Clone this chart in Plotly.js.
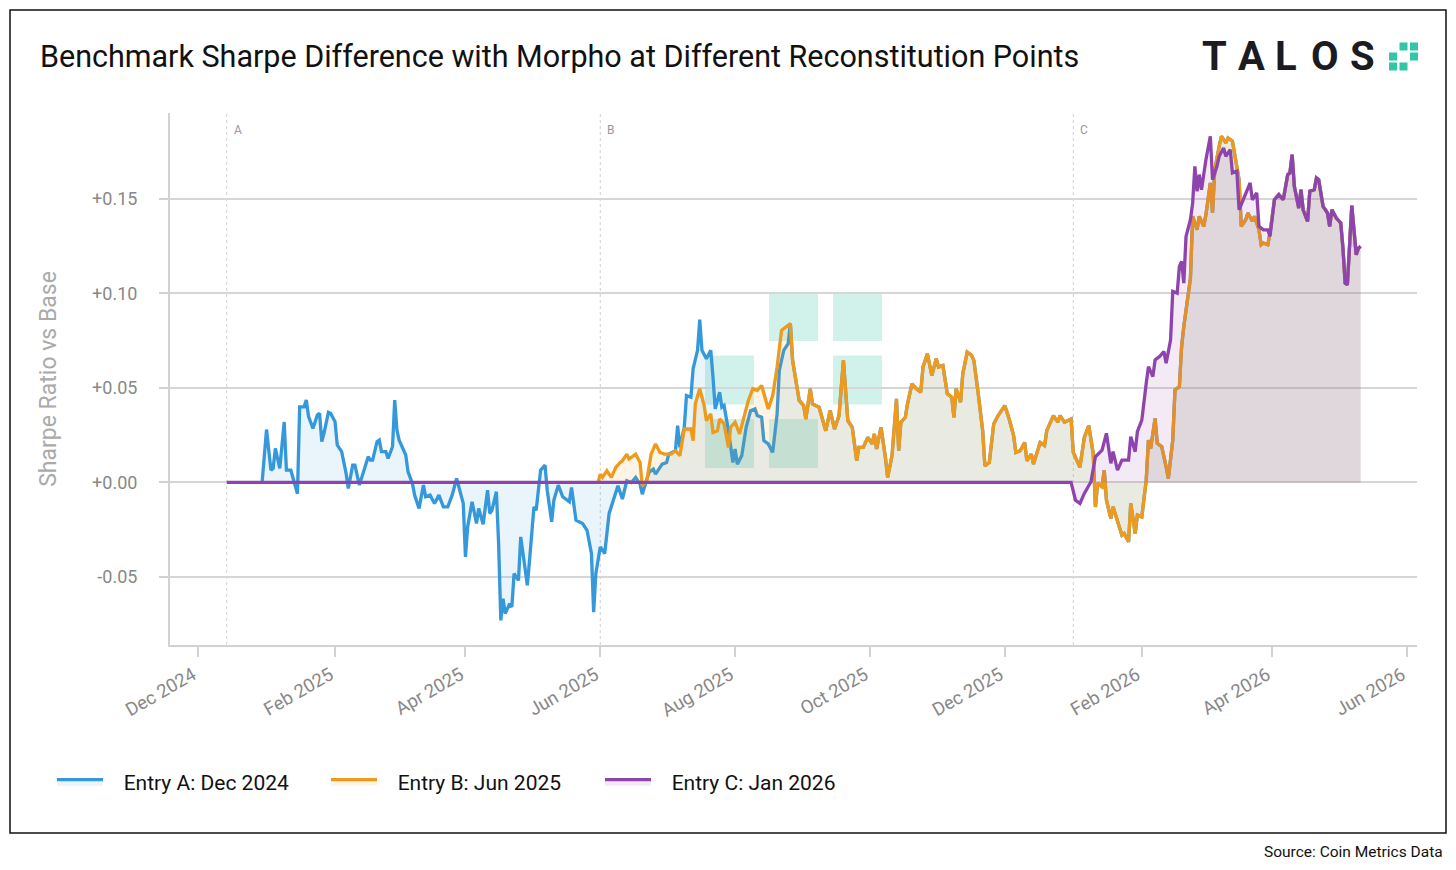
<!DOCTYPE html>
<html>
<head>
<meta charset="utf-8">
<script src="https://cdn.plot.ly/plotly-3.0.1.min.js"></script>
<style>
  html, body { margin: 0; padding: 0; background: #fff; }
  #chart { width: 1456px; height: 870px; }
</style>
</head>
<body>
<div id="chart"></div>
<script>
// Days are counted from 2024-12-01 (day 0)
const baseDate = '2024-12-01';

// Entry A (blue) - own readings until it merges under Entry B
const daysA = [29,31,33,34,35,37,39,40,42,45,46,48,49,50,52,54,55,56,57,59,60,62,63,65,67,68,70,71,73,75,77,78,79,81,82,83,85,86,88,89,90,91,94,95,97,98,100,102,103,105,107,109,111,113,115,117,119,120,121,122,124,126,127,129,131,132,133,135,136,137,138,139,141,142,143,145,146,149,150,152,153,155,157,158,160,161,163,165,168,169,171,174,176,178,179,180,182,184,186,188,190,192,194,196,198,200,201,204,206,207,210,212,213,216,217,218,220,221,223,224,226,227,228,230,232,233,234,236,237,238,240,242,243,244,246,248,250,252,253,255,256,258,260,262,263,265,267];
const valsA = [0,0.028,0.0065,0.0075,0.018,0.0075,0.032,0.0065,0.0065,-0.006,0.04,0.04,0.0436,0.035,0.0286,0.0357,0.0366,0.0216,0.026,0.0371,0.0366,0.0322,0.0198,0.0163,0.0048,-0.0032,0.0092,0.0092,-0.0014,0.0057,0.0136,0.0118,0.0118,0.0216,0.0224,0.0163,0.0163,0.0127,0.0189,0.0436,0.0277,0.0224,0.0145,0.0057,-0.0005,-0.0067,-0.0138,-0.0014,-0.0076,-0.0067,-0.0111,-0.0067,-0.0129,-0.0129,-0.0067,0.0021,-0.0058,-0.0111,-0.0394,-0.0235,-0.0102,-0.0217,-0.0138,-0.0221,-0.0041,-0.0164,-0.0147,-0.0049,-0.0323,-0.073,-0.0615,-0.0694,-0.0641,-0.0659,-0.0482,-0.0518,-0.0288,-0.0544,-0.0412,-0.0129,-0.0147,0.0065,0.0092,-0.0041,-0.0208,-0.0094,-0.0014,-0.0076,-0.0102,-0.0027,-0.02,-0.0217,-0.0253,-0.0376,-0.0686,-0.0482,-0.0341,-0.0376,-0.0164,-0.0097,-0.0018,-0.0088,0.0009,0,0.0027,-0.0009,-0.0062,0.0053,0.0071,0.0044,0.0097,0.0106,0.015,0.0168,0.0301,0.0186,0.0292,0.046,0.0451,0.0602,0.0699,0.0862,0.0699,0.0655,0.0699,0.0558,0.0389,0.0478,0.0398,0.0407,0.0274,0.0106,0.0177,0.0097,0.0142,0.0292,0.038,0.0389,0.0354,0.0345,0.0221,0.0204,0.0159,0.0363,0.0593,0.0699,0.0735];

// Entry B (orange) - own readings until it merges under Entry C
const daysB = [181,182,183,185,187,189,191,192,194,195,198,200,201,203,205,207,209,211,214,216,218,220,223,224,225,227,229,230,232,233,235,236,238,240,241,243,245,247,249,251,253,255,256,258,260,262,264,266,268,269,271,272,274,275,277,278,281,283,284,286,288,290,292,294,296,298,299,301,303,305,306,307,309,311,312,314,316,317,318,320,321,323,325,327,328,330,332,334,335,337,339,341,342,343,345,346,348,350,351,353,355,356,358,360,362,365,367,369,370,372,374,375,377,378,381,383,384,387,389,390,392,395,396,399,401,403,405,406,407,409,410,411,413,414,416,418,419,421,422,424,425,427,429,430,431,433,434,436,438,439,441,442,444,445,446,448,449,450,452,453,455,456,458,459,460,462,463,465,466,468,469,471,472,474,475,477,478,480,481,482,484,485];
const valsB = [0,0.0044,0.0027,0.0062,0.0027,0.008,0.0106,0.0115,0.015,0.0124,0.015,0.0106,-0.0018,0.0009,0.015,0.0204,0.0159,0.015,0.015,0.0168,0.0142,0.0283,0.0283,0.0221,0.0416,0.0496,0.0407,0.0327,0.0363,0.0265,0.0274,0.0336,0.031,0.0186,0.0292,0.0319,0.0257,0.0345,0.0434,0.0496,0.0487,0.0513,0.0469,0.0389,0.046,0.0611,0.0805,0.0823,0.0841,0.0646,0.0504,0.0434,0.0407,0.0336,0.0496,0.0416,0.0398,0.0319,0.0274,0.038,0.0283,0.0354,0.0646,0.0327,0.0292,0.0115,0.0186,0.0186,0.0239,0.0204,0.0257,0.0177,0.0292,0.0133,0.0027,0.0142,0.0442,0.0168,0.0319,0.0345,0.0416,0.0522,0.0496,0.0478,0.0611,0.0681,0.0566,0.0655,0.0611,0.0619,0.0469,0.0451,0.0345,0.0496,0.0425,0.0575,0.069,0.0673,0.0646,0.0469,0.0274,0.0088,0.0106,0.031,0.0354,0.0407,0.0336,0.0248,0.0159,0.0168,0.0212,0.0115,0.015,0.0097,0.0212,0.0195,0.0274,0.0354,0.0319,0.0354,0.0319,0.0336,0.0159,0.008,0.0239,0.0301,0.0154,-0.013,-0.0005,-0.0023,0.0065,-0.0094,-0.0191,-0.0129,-0.02,-0.0279,-0.027,-0.0314,-0.0111,-0.027,-0.0173,-0.0182,0.0012,0.0224,0.018,0.0339,0.0207,0.0189,0.0083,0.0021,0.0224,0.0489,0.0507,0.0719,0.0825,0.1002,0.1081,0.1408,0.1337,0.1408,0.1355,0.1417,0.1585,0.1426,0.1655,0.1779,0.1832,0.1797,0.1823,0.1806,0.1744,0.1602,0.1355,0.139,0.1426,0.1382,0.1408,0.1337,0.1258,0.1267,0.1258,0.132];

// Entry C (purple)
const daysC = [13,395,397,399,401,404,406,408,409,411,413,414,416,418,419,421,422,424,425,427,429,430,432,433,435,437,438,440,441,443,444,445,446,447,449,450,451,452,453,454,456,458,459,461,462,464,465,467,468,470,471,473,474,476,477,479,480,482,484,485,487,489,491,493,494,495,496,498,499,500,502,503,505,506,507,509,511,512,513,515,517,518,519,520,522,524,525,526];
const valsC = [0,0,-0.0094,-0.0111,-0.0058,0.0004,0.0136,0.0163,0.0171,0.026,0.0101,0.0163,0.0065,0.0118,0.0118,0.0118,0.0242,0.0163,0.0269,0.033,0.0525,0.0613,0.056,0.0648,0.0666,0.0693,0.0631,0.0754,0.1011,0.1002,0.1143,0.117,0.1055,0.1302,0.139,0.1479,0.1673,0.1541,0.1629,0.1549,0.1708,0.1832,0.1602,0.1673,0.1726,0.177,0.1726,0.1761,0.1638,0.1647,0.1443,0.1496,0.1532,0.1585,0.1496,0.1532,0.1355,0.1337,0.1337,0.1302,0.1496,0.1523,0.1496,0.1629,0.1638,0.1735,0.1567,0.1452,0.1549,0.1443,0.1382,0.1541,0.1549,0.1611,0.1602,0.1461,0.1426,0.1355,0.1443,0.1399,0.1373,0.124,0.1055,0.1046,0.1465,0.1205,0.124,0.1249];

const seriesNames = ['Entry A: Dec 2024', 'Entry B: Jun 2025', 'Entry C: Jan 2026'];
const markerDates = ['2024-12-14', '2025-06-01', '2026-01-01'];
const markerLabels = ['A', 'B', 'C'];
const yTickVals = [-0.05, 0, 0.05, 0.10, 0.15];
const yTickText = ['-0.05', '+0.00', '+0.05', '+0.10', '+0.15'];

const colors = ['#3498db', '#ee9a1c', '#8e44ad'];
const fills = ['rgba(52,152,219,0.11)', 'rgba(238,154,28,0.11)', 'rgba(142,68,173,0.11)'];

function toDate(d) {
    const t = new Date(baseDate + 'T00:00:00Z').getTime() + d * 86400000;
    return new Date(t).toISOString().slice(0, 10);
}

// a hidden line keeps following the one drawn above it
function joinTail(hd, hv, td, tv) {
    const last = hd[hd.length - 1];
    const d = hd.slice(), v = hv.slice();
    td.forEach((x, i) => { if (x > last) { d.push(x); v.push(tv[i]); } });
    return [d, v];
}

const [bDays, bVals] = joinTail(daysB, valsB, daysC, valsC);
const [aDays, aVals] = joinTail(daysA, valsA, bDays, bVals);

const all = [[aDays, aVals], [bDays, bVals], [daysC, valsC]];

var data = all.map((s, i) => ({
    x: s[0].map(toDate),
    y: s[1],
    type: 'scatter',
    mode: 'lines',
    fill: 'tozeroy',
    fillcolor: fills[i],
    line: {color: colors[i], width: 3.3},
    name: '\u00a0\u00a0\u00a0' + seriesNames[i],
    hoverinfo: 'skip'
}));

// pixel -> paper helpers for decoration (plot area 170..1417 x 113..645)
const px = x => (x - 170) / 1247;
const py = y => (645 - y) / 532;

var shapes = [];
// outer frame
shapes.push({type: 'rect', xref: 'paper', yref: 'paper', x0: px(10), x1: px(1446), y0: py(833), y1: py(10),
    line: {color: '#111', width: 1.5}, layer: 'below'});
// entry markers
markerDates.forEach(d => {
    shapes.push({type: 'line', xref: 'x', yref: 'paper', x0: d, x1: d, y0: 0, y1: 1,
        line: {color: '#cfcfcf', width: 1, dash: 'dot'}, layer: 'below'});
});
// logo squares: watermark + header
const logoCells = [[1, 0], [2, 0], [0, 1], [2, 1], [0, 2], [1, 2]];
logoCells.forEach(c => {
    const x0 = 705 + c[0] * 64, y0 = 292 + c[1] * 63.5;
    shapes.push({type: 'rect', xref: 'paper', yref: 'paper', x0: px(x0), x1: px(x0 + 49), y0: py(y0 + 49), y1: py(y0),
        fillcolor: 'rgba(46,196,165,0.22)', line: {width: 0}, layer: 'below'});
    const lx = 1389 + c[0] * 10.5, ly = 42.5 + c[1] * 10;
    shapes.push({type: 'rect', xref: 'paper', yref: 'paper', x0: px(lx), x1: px(lx + 8), y0: py(ly + 8), y1: py(ly),
        fillcolor: '#33c6a6', line: {width: 0}});
});

var annotations = markerDates.map((d, i) => ({
    x: d, xref: 'x', y: py(130), yref: 'paper', yanchor: 'middle', text: markerLabels[i], showarrow: false,
    xanchor: 'left', xshift: 5, font: {family: 'Roboto', size: 12, color: '#999'}
}));
// TALOS wordmark
const logoLetters = ['T', 'A', 'L', 'O', 'S'];
const logoX = [1214.5, 1251, 1285.5, 1325, 1362.5];
logoLetters.forEach((ch, i) => {
    annotations.push({x: px(logoX[i]), y: py(57), xref: 'paper', yref: 'paper', text: '<b>' + ch + '</b>',
        showarrow: false, xanchor: 'center', yanchor: 'middle',
        font: {family: 'Roboto', size: 40, color: '#1b1b22'}});
});
annotations.push({x: px(1445), y: py(852), xref: 'paper', yref: 'paper', text: 'Source: Coin Metrics Data',
    showarrow: false, xanchor: 'right', yanchor: 'middle', font: {family: 'Roboto', size: 15.5, color: '#111'}});

var layout = {
    width: 1456,
    height: 870,
    margin: {l: 170, r: 39, t: 113, b: 225},
    paper_bgcolor: '#fff',
    plot_bgcolor: '#fff',
    font: {family: 'Roboto, Arial, sans-serif'},
    title: {
        text: 'Benchmark Sharpe Difference with Morpho at Different Reconstitution Points',
        x: 40 / 1456, xanchor: 'left', xref: 'container',
        y: 1 - 56 / 870, yanchor: 'middle', yref: 'container',
        font: {family: 'Roboto', size: 30.5, color: '#111'}
    },
    xaxis: {
        type: 'date',
        range: ['2024-11-18 08:00', '2026-06-05 12:00'],
        tick0: '2024-12-01', dtick: 'M2', tickformat: '%b %Y',
        tickangle: -30,
        ticklabelshift: -5,
        ticks: 'outside', ticklen: 10, tickwidth: 2, tickcolor: '#d2d2d2',
        tickfont: {family: 'Roboto', size: 18.5, color: '#888'},
        showgrid: false, zeroline: false,
        showline: true, linecolor: '#d2d2d2', linewidth: 2
    },
    yaxis: {
        range: [-0.086, 0.1955],
        tickvals: yTickVals,
        ticktext: yTickText,
        ticks: 'outside', ticklen: 9, tickwidth: 2, tickcolor: '#d2d2d2',
        ticklabelstandoff: 18,
        tickfont: {family: 'Roboto', size: 18, color: '#888'},
        showgrid: true, gridcolor: '#d6d6d6', gridwidth: 2,
        zeroline: false,
        showline: true, linecolor: '#d2d2d2', linewidth: 2,
        title: {text: 'Sharpe Ratio vs Base', standoff: 29, font: {family: 'Roboto', size: 23, color: '#aaa'}}
    },
    showlegend: true,
    legend: {
        orientation: 'h',
        x: px(52), xanchor: 'left',
        y: py(782), yanchor: 'middle',
        font: {family: 'Roboto', size: 21, color: '#111'},
        itemwidth: 46,
        entrywidth: 213,
        bgcolor: 'rgba(0,0,0,0)'
    },
    shapes: shapes,
    annotations: annotations
};

Plotly.newPlot('chart', data, layout, {displayModeBar: false, staticPlot: true});
</script>
</body>
</html>
